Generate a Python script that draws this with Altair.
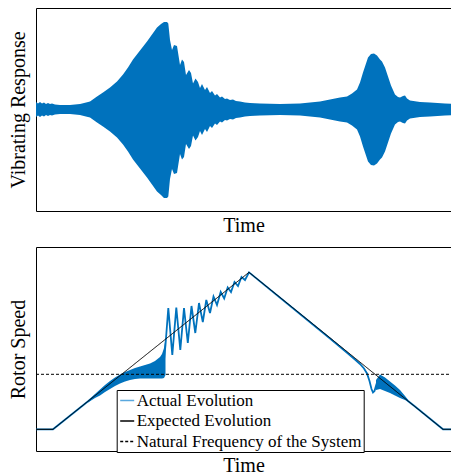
import altair as alt
import pandas as pd

FONT = "Liberation Serif"
BLUE = "#0072BD"
LEGEND_BLUE = "#5AA8DE"

# ---------------- Top panel: vibrating response envelope ----------------
vib_time = [0, 2, 4, 6, 8, 10, 12, 14, 16, 19, 24, 34, 44, 54, 61, 67, 74, 81, 87, 92,
            97, 104, 111, 116, 121, 125, 128, 131, 132.3, 134, 136, 138, 141, 144, 146,
            148, 150, 153, 155, 157, 159.5, 162, 164, 166, 169, 171, 174, 176, 179, 181,
            184, 186, 189, 191, 194, 197, 200, 204, 209, 214, 224, 244, 264, 284, 294,
            304, 311, 316, 321, 324, 327, 330, 332, 335, 338, 341, 344, 346, 349, 352,
            355, 359, 362, 364, 367, 369, 371, 374, 384, 394, 409, 423]
vib_upper = [7.5, 6, 7.5, 6, 7, 5.5, 6.5, 5.5, 6, 5, 4.5, 4.5, 5.5, 8, 13, 17, 22, 28, 35, 42,
             50, 59, 68, 75, 82, 85.5, 87.5, 87.5, 86, 69.5, 59.5, 64.5, 63.5, 44.5, 50,
             47.5, 34.5, 39.5, 36.5, 26, 31, 27.5, 21.5, 25.5, 19.5, 22.5, 16.5, 18.5, 14, 15.5,
             12, 13, 10.5, 11, 9.5, 10, 8.5, 8, 7, 6.5, 6, 5.5, 6, 8, 10,
             12, 13, 16, 20, 27, 37, 46, 52, 55.5, 56, 54, 50, 48, 42, 33,
             24, 15, 12.5, 12, 13.5, 14, 11, 9, 7.5, 7, 6, 5.5]
vib_lower = [-7.5, -6, -7.5, -6, -7, -5.5, -6.5, -5.5, -6, -5, -4.5, -4.5, -5.5, -8, -13, -17, -22, -28, -35, -42,
             -50, -59, -68, -75, -82, -85.5, -88.5, -88.5, -87, -69.5, -59.5, -64.5, -63.5, -44.5, -50,
             -47.5, -34.5, -39.5, -36.5, -26, -31, -27.5, -21.5, -25.5, -19.5, -22.5, -16.5, -18.5, -14, -15.5,
             -12, -13, -10.5, -11, -9.5, -10, -8.5, -8, -7, -6.5, -6, -5.5, -6, -8, -10,
             -12, -13, -16, -20, -27, -37, -46, -52, -55.5, -56, -54, -50, -48, -42, -33,
             -24, -15, -12.5, -12, -13.5, -14, -11, -9, -7.5, -7, -6, -5.5]

# ---------------- Bottom panel: rotor speed ----------------
series_names = ["Actual Evolution", "Expected Evolution", "Natural Frequency of the System"]

exp_time = [0, 17, 213, 407, 423]
exp_speed = [21.7, 21.7, 178.7, 21.7, 21.7]

nat_time = [0, 423]
nat_speed = [76.7, 76.7]

act_time = [0, 17, 54, 64, 84, 104, 124, 128, 129.5,
            132.3, 136.3, 140.3, 144.3, 148, 151.8, 155.5, 159.3, 163, 166.8, 170.3, 174,
            177.5, 181, 184.7, 188.2, 191.7, 195, 198.5, 202, 205.5, 209, 213,
            264, 294, 309, 319, 324, 328, 331, 333.5, 335.5, 337, 338.5, 340.5, 343, 345,
            348, 352, 357, 362, 367, 372, 379, 407, 423]
act_speed = [21.7, 21.7, 51.3, 59, 72, 79, 83, 91, 106,
             143, 96, 143.5, 101, 143, 108, 145, 118, 148, 129, 151, 138,
             154.5, 146, 159, 152.5, 163.5, 159, 169, 165, 174, 171, 178.7,
             137, 112.5, 100, 91.5, 87, 82.5, 77.5, 70, 62, 58.5, 60, 67, 72.5, 74,
             72.5, 69, 64.5, 60, 55, 50, 44.5, 21.7, 21.7]

band_group = ["rise"] * 18 + ["fall"] * 8
band_time = [52, 59, 64, 69, 74, 79, 84, 89, 94, 99, 104, 109, 114, 119, 124, 126, 128, 129.5,
             340, 344, 349, 354, 359, 364, 369, 372]
band_high = [50.5, 57, 61.5, 66, 70, 73.5, 76.5, 79, 81, 83, 84.5, 86, 87.5, 90, 94, 97, 103, 113,
             71, 76.5, 73.5, 69.5, 65.5, 61, 55, 51]
band_low = [48.5, 53, 55.5, 59, 62, 65, 67.5, 69.5, 71, 72, 72.5, 72.5, 72.5, 72.5, 72.5, 72.5, 73, 76,
            61, 62, 60, 58, 55.5, 53, 51, 49.5]

# ---------------- data frames ----------------
vib_df = pd.DataFrame({"t": vib_time, "up": vib_upper, "lo": vib_lower})
exp_df = pd.DataFrame({"t": exp_time, "s": exp_speed, "series": series_names[1]})
nat_df = pd.DataFrame({"t": nat_time, "s": nat_speed, "series": series_names[2]})
act_df = pd.DataFrame({"t": act_time, "s": act_speed, "series": series_names[0]})
band_df = pd.DataFrame({"t": band_time, "hi": band_high, "lo": band_low, "g": band_group})

W = 415          # visible part of the time axis (the reference crops the right edge)
H_TOP = 203
H_BOT = 204

line_axis = dict(labels=False, ticks=False, grid=False, domain=True, domainColor="black", domainWidth=1)

# ---------------- top panel ----------------
x_top_scale = alt.Scale(domain=[0, 415], nice=False, zero=False)
y_top_scale = alt.Scale(domain=[-101.5, 101.5], nice=False, zero=False)
y_top_axis = alt.Axis(title="Vibrating Response", orient="left", titlePadding=8, **line_axis)

vib_area = alt.Chart(vib_df).mark_area(color=BLUE, opacity=1, clip=True).encode(
    x=alt.X("t:Q", scale=x_top_scale,
            axis=alt.Axis(title="Time", orient="bottom", titlePadding=4, **line_axis)),
    y=alt.Y("up:Q", scale=y_top_scale, axis=y_top_axis),
    y2="lo:Q",
)
vib_frame = alt.Chart(vib_df).mark_line(opacity=0, clip=True).encode(
    x=alt.X("t:Q", scale=x_top_scale, axis=alt.Axis(title=None, orient="top", **line_axis)),
    y=alt.Y("up:Q", scale=y_top_scale, axis=y_top_axis),
)
top = alt.layer(vib_area, vib_frame).properties(width=W, height=H_TOP)

# ---------------- bottom panel ----------------
x_bot_scale = alt.Scale(domain=[0, 415], nice=False, zero=False)
y_bot_scale = alt.Scale(domain=[0, 204], nice=False, zero=False)
y_bot_axis = alt.Axis(title="Rotor Speed", orient="left", titlePadding=8, **line_axis)

legend = alt.Legend(
    title=None, orient="none", legendX=80.7, legendY=143,
    strokeColor="black", fillColor="white", padding=2, cornerRadius=0,
    symbolType="stroke", symbolSize=196, symbolStrokeWidth=1.5,
    labelFont=FONT, labelFontSize=17, labelColor="black", labelLimit=400,
    labelOffset=1, rowPadding=2.5, direction="vertical",
)
color_enc = alt.Color("series:N",
                      scale=alt.Scale(domain=series_names, range=[LEGEND_BLUE, "black", "black"]),
                      legend=legend)
dash_enc = alt.StrokeDash("series:N",
                          scale=alt.Scale(domain=series_names, range=[[1, 0], [1, 0], [3, 2]]),
                          legend=legend)

band = alt.Chart(band_df).mark_area(color=BLUE, opacity=1, clip=True).encode(
    x=alt.X("t:Q", scale=x_bot_scale,
            axis=alt.Axis(title="Time", orient="bottom", titlePadding=4, **line_axis)),
    y=alt.Y("hi:Q", scale=y_bot_scale, axis=y_bot_axis),
    y2="lo:Q",
    detail="g:N",
)
actual = alt.Chart(act_df).mark_line(strokeWidth=1.8, color=BLUE, clip=True).encode(
    x=alt.X("t:Q", scale=x_bot_scale, axis=None),
    y=alt.Y("s:Q", scale=y_bot_scale, axis=y_bot_axis),
    order="t:Q",
)
expected = alt.Chart(exp_df).mark_line(strokeWidth=1, clip=True).encode(
    x=alt.X("t:Q", scale=x_bot_scale, axis=alt.Axis(title=None, orient="top", **line_axis)),
    y=alt.Y("s:Q", scale=y_bot_scale, axis=y_bot_axis),
    color=color_enc, strokeDash=dash_enc,
)
natural = alt.Chart(nat_df).mark_line(strokeWidth=1, clip=True).encode(
    x=alt.X("t:Q", scale=x_bot_scale, axis=None),
    y=alt.Y("s:Q", scale=y_bot_scale, axis=y_bot_axis),
    color=color_enc, strokeDash=dash_enc,
)
bottom = alt.layer(band, actual, expected, natural).properties(width=W, height=H_BOT)

chart = alt.vconcat(top, bottom, spacing=12).resolve_scale(
    color="independent", strokeDash="independent"
).properties(
    padding={"left": 0, "top": 0, "right": 0, "bottom": 0}
).configure_view(stroke=None).configure_axis(
    titleFont=FONT, titleFontSize=20, titleFontWeight="normal", titleColor="black"
)

chart.save("out.html", embed_options={"renderer": "svg", "actions": False})
